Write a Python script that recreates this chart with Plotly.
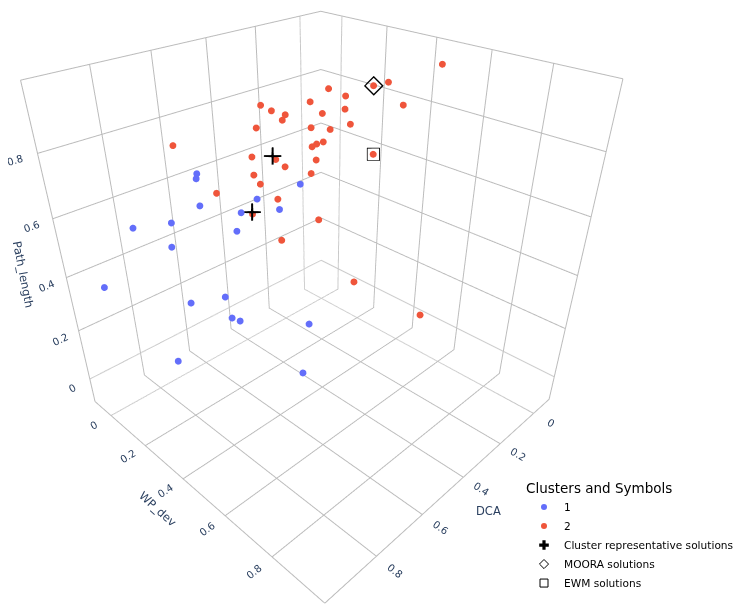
import plotly.graph_objects as go

# ---- data (DCA, WP_dev, Path_length) ----
dca_1 = [0.778, 0.780, 0.522, 0.658, 0.778, 0.607, 0.695, 0.835, 0.707, 0.840,
         0.744, 0.903, 0.967, 0.817, 0.733, 0.715, 0.631, 0.867, 0.739]
wp_1 = [0.318, 0.316, 0.435, 0.410, 0.317, 0.441, 0.385, 0.259, 0.376, 0.253,
        0.347, 0.173, 0.068, 0.279, 0.356, 0.370, 0.575, 0.248, 0.660]
path_1 = [0.800, 0.786, 0.725, 0.718, 0.708, 0.680, 0.682, 0.657, 0.627, 0.582,
          0.416, 0.635, 0.425, 0.398, 0.341, 0.328, 0.377, 0.195, 0.311]

dca_2 = [0.060, 0.173, 0.198, 0.247, 0.252, 0.229, 0.325, 0.487, 0.287, 0.316,
         0.468, 0.436, 0.457, 0.320, 0.552, 0.383, 0.347, 0.810, 0.378, 0.399,
         0.419, 0.621, 0.431, 0.556, 0.541, 0.367, 0.470, 0.647, 0.643, 0.743,
         0.610, 0.670, 0.507, 0.604, 0.462, 0.350]
wp_2 = [0.543, 0.442, 0.408, 0.275, 0.349, 0.545, 0.276, 0.243, 0.380, 0.317,
        0.266, 0.288, 0.298, 0.432, 0.296, 0.338, 0.379, 0.273, 0.382, 0.376,
        0.378, 0.354, 0.406, 0.376, 0.396, 0.561, 0.425, 0.389, 0.409, 0.348,
        0.439, 0.402, 0.491, 0.442, 0.589, 0.751]
path_2 = [0.979, 0.931, 0.919, 0.892, 0.888, 0.902, 0.871, 0.892, 0.865, 0.844,
          0.877, 0.863, 0.855, 0.842, 0.857, 0.824, 0.820, 0.873, 0.792, 0.790,
          0.788, 0.810, 0.760, 0.790, 0.770, 0.803, 0.737, 0.777, 0.756, 0.743,
          0.711, 0.675, 0.630, 0.584, 0.448, 0.355]

rep_dca = [0.559, 0.671]
rep_wp = [0.366, 0.401]
rep_path = [0.799, 0.682]

moora_dca = [0.198]
moora_wp = [0.408]
moora_path = [0.919]

ewm_dca = [0.367]
ewm_wp = [0.561]
ewm_path = [0.803]

tick_vals = [0, 0.2, 0.4, 0.6, 0.8, 1]
tick_text = ['0', '0.2', '0.4', '0.6', '0.8', '1']
axis_titles = {'x': 'DCA', 'y': 'WP_dev', 'z': 'Path_length'}

BLUE = '#636EFA'
RED = '#EF553B'
AXIS_TEXT = '#2a3f5f'
FW, FH = 736, 607

fig = go.Figure()
fig.add_trace(go.Scatter3d(x=dca_1, y=wp_1, z=path_1, mode='markers', name='1', showlegend=False,
                           marker=dict(size=4, color=BLUE)))
fig.add_trace(go.Scatter3d(x=dca_2, y=wp_2, z=path_2, mode='markers', name='2', showlegend=False,
                           marker=dict(size=4, color=RED)))
fig.add_trace(go.Scatter3d(x=rep_dca, y=rep_wp, z=rep_path, mode='markers', showlegend=False,
                           marker=dict(size=9.5, color='black', symbol='cross')))
fig.add_trace(go.Scatter3d(x=moora_dca, y=moora_wp, z=moora_path, mode='markers', showlegend=False,
                           marker=dict(size=6.5, color='black', symbol='diamond-open')))
fig.add_trace(go.Scatter3d(x=ewm_dca, y=ewm_wp, z=ewm_path, mode='markers', showlegend=False,
                           marker=dict(size=5.5, color='black', symbol='square-open')))
# legend entries
fig.add_trace(go.Scatter3d(x=[None], y=[None], z=[None], mode='markers', name='1',
                           marker=dict(size=6, color=BLUE)))
fig.add_trace(go.Scatter3d(x=[None], y=[None], z=[None], mode='markers', name='2',
                           marker=dict(size=6, color=RED)))
fig.add_trace(go.Scatter3d(x=[None], y=[None], z=[None], mode='markers', name='Cluster representative solutions',
                           marker=dict(size=8, color='black', symbol='cross')))
fig.add_trace(go.Scatter3d(x=[None], y=[None], z=[None], mode='markers', name='MOORA solutions',
                           marker=dict(size=7, color='black', symbol='diamond-open')))
fig.add_trace(go.Scatter3d(x=[None], y=[None], z=[None], mode='markers', name='EWM solutions',
                           marker=dict(size=8, color='black', symbol='square-open')))

axis_style = dict(range=[-0.1, 1.0], tickvals=tick_vals, ticktext=tick_text,
                  showbackground=False, gridcolor='#bbbbbb',
                  zerolinecolor='#dddddd', showspikes=False, title=dict(text=''),
                  tickfont=dict(size=11, color=AXIS_TEXT))

fig.update_layout(
    width=FW, height=FH, template='plotly',
    font=dict(family='Verdana, DejaVu Sans, sans-serif'),
    margin=dict(l=0, r=0, t=0, b=0, autoexpand=False),
    scene=dict(
        domain=dict(x=[0, 0.8546], y=[0, 1]),
        xaxis=axis_style, yaxis=axis_style, zaxis=axis_style,
        aspectmode='manual', aspectratio=dict(x=1, y=1, z=0.9955),
        camera=dict(eye=dict(x=1.2305, y=1.2121, z=1.0194),
                    center=dict(x=0, y=0, z=-0.1622),
                    up=dict(x=0, y=0, z=1)),
    ),
    legend=dict(title=dict(text='Clusters and Symbols', font=dict(size=13.5, color='black')),
                font=dict(size=10.6, color='black'),
                x=516/FW, xanchor='left', y=1-467/FH, yanchor='top',
                bgcolor='rgba(0,0,0,0)'),
)
# axis titles placed just outside each axis' tick labels
title_pos = [('z', 15.3, 267, 79), ('y', 149.7, 501, 42), ('x', 480, 502.7, 0)]
for key, px, py, ang in title_pos:
    fig.add_annotation(xref='paper', yref='paper', x=px/FW, y=1-py/FH, xanchor='center', yanchor='middle',
                       text=axis_titles[key], textangle=ang, showarrow=False,
                       font=dict(size=11.5, color=AXIS_TEXT))
fig.write_html("out.html")
